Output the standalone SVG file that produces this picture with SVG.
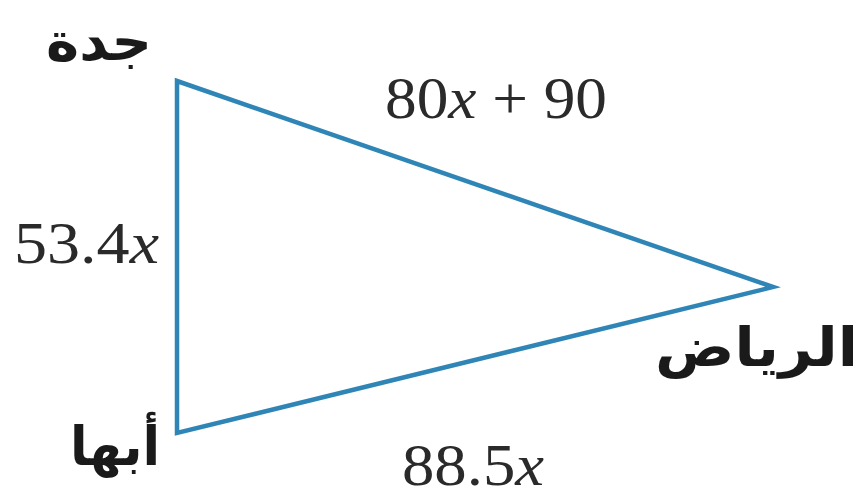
<svg xmlns="http://www.w3.org/2000/svg" width="861" height="500" viewBox="0 0 861 500">
<style>
.edge{fill:none;stroke:#2f86b6;stroke-width:4.5;stroke-linejoin:miter}
.ar{font-family:"DejaVu Sans",sans-serif;font-weight:bold;font-size:54px;fill:#1a1a1a}
.m{font-family:"Liberation Serif",serif;font-size:60px;fill:#2a2a2a}
.i{font-style:italic}
</style>
<rect width="861" height="500" fill="#ffffff"/>
<g id="connectors">
<polygon class="edge" points="177,81 773,287 177,433"/>
</g>
<g id="jeddah"><text class="ar" x="152" y="60" text-anchor="end" textLength="106" lengthAdjust="spacingAndGlyphs">جدة</text></g>
<g id="abha"><text class="ar" x="160" y="465" text-anchor="end" textLength="90" lengthAdjust="spacingAndGlyphs">أبها</text></g>
<g id="riyadh"><text class="ar" x="858" y="366" text-anchor="end" textLength="203" lengthAdjust="spacingAndGlyphs">الرياض</text></g>
<g id="label-top"><text class="m" x="385" y="118" textLength="222" lengthAdjust="spacingAndGlyphs">80<tspan class="i">x</tspan> + 90</text></g>
<g id="label-left"><text class="m" x="14" y="263" textLength="145" lengthAdjust="spacingAndGlyphs">53.4<tspan class="i">x</tspan></text></g>
<g id="label-bottom"><text class="m" x="402" y="485" textLength="142" lengthAdjust="spacingAndGlyphs">88.5<tspan class="i">x</tspan></text></g>
</svg>
